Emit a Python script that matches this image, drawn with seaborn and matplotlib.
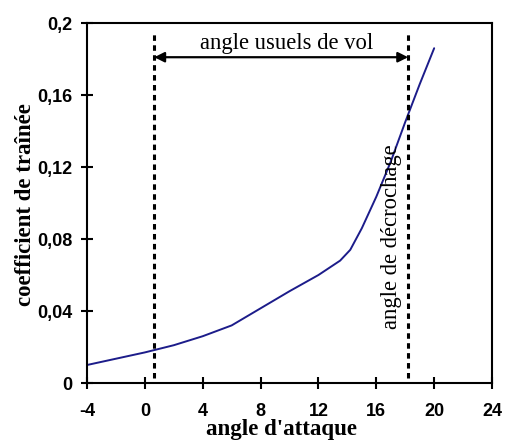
import matplotlib
matplotlib.use("Agg")
import matplotlib.pyplot as plt
import seaborn as sns
import pandas as pd

# data
angle = [-4, -2, 0, 2, 4, 6, 8, 10, 12, 13.5, 14.2, 15, 16, 17, 18, 19, 20]
traine = [0.010, 0.0135, 0.017, 0.021, 0.026, 0.032, 0.0415, 0.051, 0.060, 0.068,
          0.074, 0.086, 0.1035, 0.123, 0.145, 0.166, 0.186]
x_ticks = [-4, 0, 4, 8, 12, 16, 20, 24]
y_ticks = [0, 0.04, 0.08, 0.12, 0.16, 0.2]
y_tick_labels = ["0", "0,04", "0,08", "0,12", "0,16", "0,2"]
vol_min, vol_max = 0.65, 18.2

sns.set_theme(style="white")
df = pd.DataFrame({"angle": angle, "traine": traine})

fig = plt.figure(figsize=(5.05, 4.41), dpi=100)
ax = fig.add_axes([0.1723, 0.1315, 0.802, 0.8163])
sns.lineplot(data=df, x="angle", y="traine", ax=ax, color="#1c1c8a", linewidth=1.4)

ax.set_xlim(-4, 24)
ax.set_ylim(0, 0.2)
ax.set_xticks(x_ticks)
ax.set_xticklabels([str(t) for t in x_ticks])
ax.set_yticks(y_ticks)
ax.set_yticklabels(y_tick_labels)

for lab in ax.get_xticklabels() + ax.get_yticklabels():
    lab.set_fontfamily("Liberation Sans")
    lab.set_fontweight("bold")
    lab.set_fontsize(13)
    lab.set_color("black")

ax.tick_params(axis="both", direction="inout", length=9, width=1.5, colors="black",
               bottom=True, left=True)
ax.tick_params(axis="x", pad=10)
ax.tick_params(axis="y", pad=6)
for s in ax.spines.values():
    s.set_color("black")
    s.set_linewidth(1.5)

ax.set_xlabel("angle d'attaque", fontfamily="Liberation Serif", fontweight="bold",
              fontsize=16.5, color="black")
ax.xaxis.label.set_va("baseline")
ax.xaxis.set_label_coords(0.481, -0.1444)
ax.set_ylabel("coefficient de traînée", fontfamily="Liberation Serif", fontweight="bold",
              fontsize=16.5, color="black")
ax.yaxis.label.set_va("center")
ax.yaxis.set_label_coords(-0.153, 0.497)

# dashed vertical lines
for xv in (vol_min, vol_max):
    ax.plot([xv, xv], [0.003, 0.1957], color="black", linestyle=(0, (1.8, 1.45)),
            linewidth=2.2)

# double arrow
ax.annotate("", xy=(vol_min, 0.181), xytext=(vol_max, 0.181),
            arrowprops=dict(arrowstyle="<|-|>", color="black", lw=1.6,
                            mutation_scale=15, shrinkA=0, shrinkB=0))
ax.text((vol_min + vol_max) / 2 + 0.4, 0.1885, "angle usuels de vol",
        fontfamily="Liberation Serif", fontsize=16.3, ha="center", va="center", color="black")
ax.text(17.05, 0.0815, "angle de décrochage", rotation=90,
        fontfamily="Liberation Serif", fontsize=16.3, ha="center", va="center", color="black")

fig.savefig("out.png", dpi=100)
